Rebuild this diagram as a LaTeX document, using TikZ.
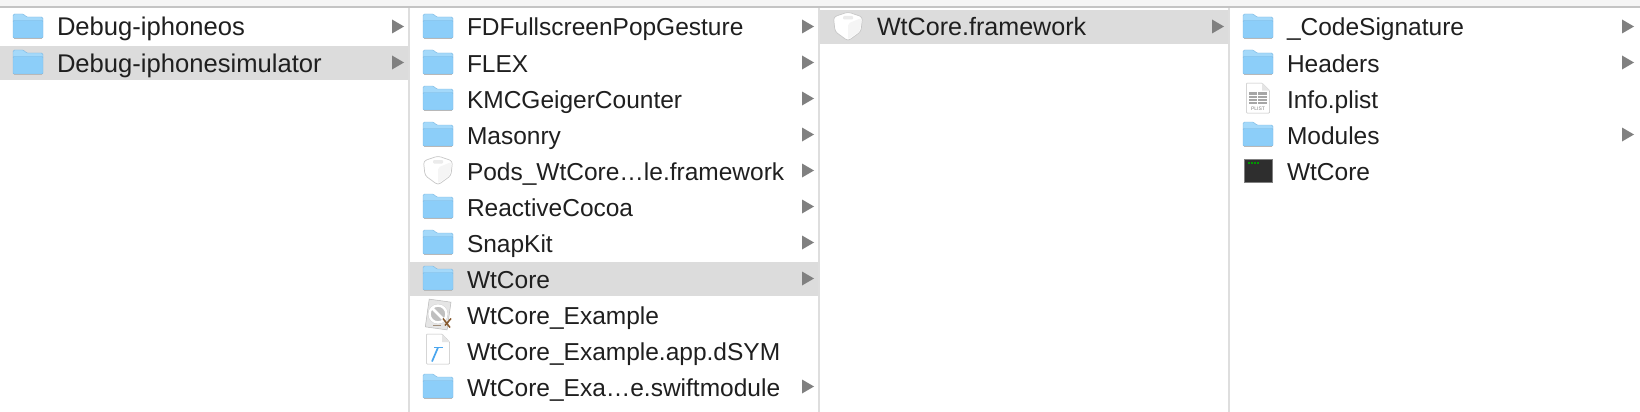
\documentclass[tikz,border=0pt]{standalone}
\usepackage{fontspec}
\setmainfont{Liberation Sans}
\usetikzlibrary{positioning}
\definecolor{rowgrey}{HTML}{DCDCDC}
\definecolor{topgrey}{HTML}{F5F5F5}
\definecolor{rulegrey}{HTML}{C4C4C4}
\definecolor{colgrey}{HTML}{DEDEDE}
\definecolor{arrowgrey}{HTML}{808080}
\definecolor{folderfront}{HTML}{8CCEF9}
\definecolor{folderback}{HTML}{A4D9FA}
\definecolor{folderedge}{HTML}{7DB8E2}
\definecolor{hammerblue}{HTML}{4BA6EE}
\tikzset{
  rowlabel/.style={inner sep=0pt,outer sep=0pt,minimum height=36pt,text height=22pt,text depth=5pt,text width=331pt,align=left,font=\fontsize{24.5}{28}\selectfont,text=black!88},
  widelabel/.style={font=\fontsize{25.6}{28}\selectfont},
  folder/.pic={
    \fill[folderback,draw=folderedge,line width=.4pt,rounded corners=1.5pt] (-15,-5) -- (-15,-13.5) -- (-4,-13.5) -- (-2,-10.5) -- (15,-10.5) -- (15,-5) -- cycle;
    \fill[folderfront,draw=folderedge,line width=.4pt,rounded corners=1pt] (-15,-7) rectangle (15,10.5);
    \fill[black!28] (-14,10.5) rectangle (14,11.3);
  },
  nextarrow/.pic={
    \fill[arrowgrey] (-12,-8) -- (0,-1) -- (-12,6) -- cycle;
  },
  bricon/.pic={
    \fill[white,draw=black!22,line width=.7pt,line join=round,rounded corners=3pt] (0,-15.5) -- (14.5,-10.5) -- (13,4) -- (0,13.5) -- (-13,4) -- (-14.5,-10.5) -- cycle;
    \fill[black!4,rounded corners=2pt] (13.5,-9.5) -- (12,3.5) -- (0,12) -- (0,-4) -- cycle;
    \fill[black!8,rounded corners=1pt] (-5,-11.5) rectangle (5,-8);
  },
  appicon/.pic={
    \fill[black!10,draw=black!28,line width=.5pt,rotate=-8] (-11,-15) rectangle (11,13);
    \fill[black!25] (0,-1.5) circle (10);
    \draw[white,line width=2.5pt] (0,-1.5) circle (8.5);
    \draw[white,line width=2.5pt] (-6,-7.5) -- (6,4.5);
    \draw[brown!70!black,line width=1.5pt] (5,3) -- (12,12);
    \draw[brown!70!black,line width=1.5pt] (13,3) -- (7,10);
    \draw[brown!50!black!60,line width=1.5pt] (-5,10) -- (3,10);
  },
  dsymicon/.pic={
    \fill[white,draw=black!25,line width=.5pt,rounded corners=.8pt] (-11.5,-17.5) -- (4,-17.5) -- (11.5,-9.5) -- (11.5,12.5) -- (-11.5,12.5) -- cycle;
    \fill[black!10] (4,-17.5) -- (4,-9.5) -- (11.5,-9.5) -- cycle;
    \draw[hammerblue,line width=1.7pt] (0,-4) -- (-6,10);
    \draw[hammerblue,line width=1.7pt] (-4,-4) -- (5,-4);
  },
  plisticon/.pic={
    \fill[white,draw=black!25,line width=.5pt,rounded corners=.8pt] (-11.5,-16.5) -- (4,-16.5) -- (11.5,-9) -- (11.5,13.5) -- (-11.5,13.5) -- cycle;
    \fill[black!10] (4,-16.5) -- (4,-9) -- (11.5,-9) -- cycle;
    \fill[black!35] (-9,-7.5) rectangle (9,4.5);
    \draw[white,line width=.5pt] (-1,-7.5) -- (-1,4.5) (-9,-4.5) -- (9,-4.5) (-9,-1.5) -- (9,-1.5) (-9,1.5) -- (9,1.5);
    \node[inner sep=0pt,text=black!50,font=\fontsize{5}{5}\selectfont] at (0,9.5) {PLIST};
  },
  execicon/.pic={
    \fill[black!82!white,draw=black!50,line width=.7pt] (-14,-12.5) rectangle (14,10.5);
    \fill[green!60!black] (-10,-9.5) rectangle (-8,-8);
    \fill[green!60!black] (-7,-9.5) rectangle (-5,-8);
    \fill[green!60!black] (-4,-9.5) rectangle (-2,-8);
    \fill[green!60!black] (-1,-9.5) rectangle (1,-8);
  }
}
\begin{document}
\begin{tikzpicture}[x=1pt,y=-1pt,node distance=0pt]
\useasboundingbox (0,0) rectangle (1640,412);
\fill[white] (0,0) rectangle (1640,412);
\fill[topgrey] (0,0) rectangle (1640,6);
\fill[rulegrey] (0,6) rectangle (1640,8);
% selected rows
\fill[rowgrey] (0,46) rectangle (408,80);
\fill[rowgrey] (410,262) rectangle (818,296);
\fill[rowgrey] (820,10) rectangle (1228,44);
% column rules
\fill[colgrey] (408,8) rectangle (410,412);
\fill[colgrey] (818,8) rectangle (820,412);
\fill[colgrey] (1228,8) rectangle (1230,412);

% first column
\node[rowlabel,widelabel,anchor=west] (one0) at (57,27.5) {Debug-iphoneos};
\node[rowlabel,widelabel,below=of one0] (one1) {Debug-iphonesimulator};
\pic at ([xshift=-29pt]one0.west) {folder};
\pic at ([xshift=-29pt]one1.west) {folder};
\pic at ([xshift=16pt]one0.east) {nextarrow};
\pic at ([xshift=16pt]one1.east) {nextarrow};

% second column
\node[rowlabel,anchor=west] (two0) at (467,27.5) {FDFullscreenPopGesture};
\node[rowlabel,below=of two0] (two1) {FLEX};
\node[rowlabel,below=of two1] (two2) {KMCGeigerCounter};
\node[rowlabel,below=of two2] (two3) {Masonry};
\node[rowlabel,below=of two3] (two4) {Pods\_WtCore…le.framework};
\node[rowlabel,below=of two4] (two5) {ReactiveCocoa};
\node[rowlabel,below=of two5] (two6) {SnapKit};
\node[rowlabel,below=of two6] (two7) {WtCore};
\node[rowlabel,below=of two7] (two8) {WtCore\_Example};
\node[rowlabel,below=of two8] (two9) {WtCore\_Example.app.dSYM};
\node[rowlabel,below=of two9] (two10) {WtCore\_Exa…e.swiftmodule};
\pic at ([xshift=-29pt]two0.west) {folder};
\pic at ([xshift=-29pt]two1.west) {folder};
\pic at ([xshift=-29pt]two2.west) {folder};
\pic at ([xshift=-29pt]two3.west) {folder};
\pic at ([xshift=-29pt]two4.west) {bricon};
\pic at ([xshift=-29pt]two5.west) {folder};
\pic at ([xshift=-29pt]two6.west) {folder};
\pic at ([xshift=-29pt]two7.west) {folder};
\pic at ([xshift=-29pt]two8.west) {appicon};
\pic at ([xshift=-29pt]two9.west) {dsymicon};
\pic at ([xshift=-29pt]two10.west) {folder};
\pic at ([xshift=16pt]two0.east) {nextarrow};
\pic at ([xshift=16pt]two1.east) {nextarrow};
\pic at ([xshift=16pt]two2.east) {nextarrow};
\pic at ([xshift=16pt]two3.east) {nextarrow};
\pic at ([xshift=16pt]two4.east) {nextarrow};
\pic at ([xshift=16pt]two5.east) {nextarrow};
\pic at ([xshift=16pt]two6.east) {nextarrow};
\pic at ([xshift=16pt]two7.east) {nextarrow};
\pic at ([xshift=16pt]two10.east) {nextarrow};

% third column
\node[rowlabel,font=\fontsize{25.1}{28}\selectfont,anchor=west] (three0) at (877,27.5) {WtCore.framework};
\pic at ([xshift=-29pt]three0.west) {bricon};
\pic at ([xshift=16pt]three0.east) {nextarrow};

% fourth column
\node[rowlabel,anchor=west] (four0) at (1287,27.5) {\_CodeSignature};
\node[rowlabel,below=of four0] (four1) {Headers};
\node[rowlabel,below=of four1] (four2) {Info.plist};
\node[rowlabel,below=of four2] (four3) {Modules};
\node[rowlabel,below=of four3] (four4) {WtCore};
\pic at ([xshift=-29pt]four0.west) {folder};
\pic at ([xshift=-29pt]four1.west) {folder};
\pic at ([xshift=-29pt]four2.west) {plisticon};
\pic at ([xshift=-29pt]four3.west) {folder};
\pic at ([xshift=-29pt]four4.west) {execicon};
\pic at ([xshift=16pt]four0.east) {nextarrow};
\pic at ([xshift=16pt]four1.east) {nextarrow};
\pic at ([xshift=16pt]four3.east) {nextarrow};
\end{tikzpicture}
\end{document}
